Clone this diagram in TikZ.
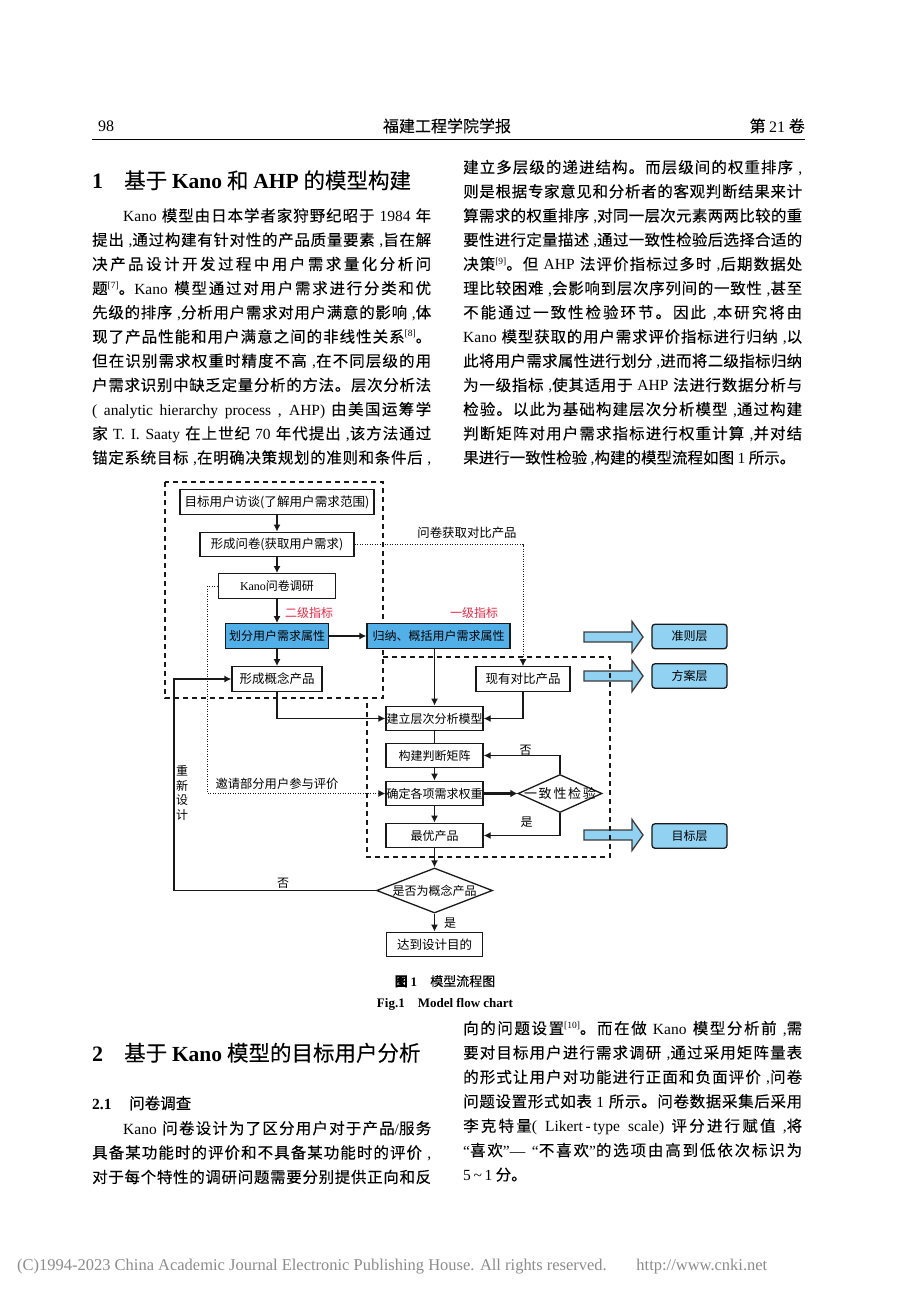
\documentclass[tikz,border=0pt]{standalone}
\usepackage{fontspec}
\usepackage{graphicx}
\setmainfont{Liberation Serif}
\newfontfamily\cjk[FakeBold=0.12]{Noto Sans CJK SC}
\newfontfamily\cjkf{Noto Sans CJK SC}
\usetikzlibrary{arrows.meta,shapes.geometric,calc}
\XeTeXinterchartokenstate=1
\newXeTeXintercharclass\cjkcls
\newcount\cjkc
\cjkc="4E00
\loop
  \XeTeXcharclass\cjkc=\cjkcls
  \advance\cjkc by 1
\ifnum\cjkc<"A000 \repeat
\XeTeXcharclass"3001=\cjkcls
\XeTeXcharclass"3002=\cjkcls
\XeTeXcharclass"FF0C=\cjkcls
\XeTeXinterchartoks\cjkcls\cjkcls={\hskip0pt plus 1pt\relax}
\definecolor{lk}{RGB}{25,25,25}
\definecolor{fcblue}{RGB}{82,176,232}
\definecolor{lblue}{RGB}{145,210,242}
\definecolor{ared}{RGB}{235,40,70}
\definecolor{ftgray}{RGB}{140,140,140}
\newcount\tn
\newcommand\tm[1]{{\rmfamily #1}}
\newcommand\refx[1]{\raisebox{5.5pt}{\rmfamily\fontsize{9.5}{9.5}\selectfont[#1]}}
\newcommand\jl[4]{\global\advance\tn by 1 \node[txt] (t\the\tn) at (#1,#2) {\makebox[#3][s]{#4}};}
\newcommand\nl[3]{\global\advance\tn by 1 \node[txt] (t\the\tn) at (#1,#2) {#3};}
\begin{document}
\begin{tikzpicture}[x=1pt,y=-1pt,
  txt/.style={anchor=base west,inner sep=0,font=\cjk\fontsize{15.5}{15.5}\selectfont},
  fc/.style={font=\cjkf\fontsize{12}{12}\selectfont},
  box/.style={fc,draw=lk,line width=1.3pt,fill=white,inner sep=0,minimum height=24.5pt},
  bbox/.style={box,fill=fcblue},
  lbox/.style={fc,draw=lk,line width=1.3pt,rounded corners=3pt,fill=lblue,inner sep=0,minimum width=75pt,minimum height=24.5pt},
  dia/.style={fc,diamond,draw=lk,line width=1.3pt,fill=white,inner sep=0},
  arr/.style={draw=lk,line width=1.3pt,-{Latex[length=7pt,width=7pt]}},
  ln/.style={draw=lk,line width=1.3pt},
  dotl/.style={draw=lk,line width=1pt,dash pattern=on 1pt off 1.5pt,-{Latex[length=7pt,width=7pt]}},
  dbox/.style={draw=lk,line width=1.6pt,dash pattern=on 5pt off 4pt},
  barr/.style={draw=lk!85,line width=1.3pt,fill=lblue,line join=miter},
  lab/.style={fc,inner sep=0},
  redl/.style={lab,text=ared}]
\useasboundingbox (0,0) rectangle (920,1302);
\fill[white] (0,0) rectangle (920,1302);

% ---------- header ----------
\node[anchor=base west,inner sep=0,font=\rmfamily\fontsize{16}{16}\selectfont] (pg) at (98,131) {98};
\node[anchor=base,inner sep=0,font=\cjk\fontsize{16}{16}\selectfont] (jn) at (447,132) {福建工程学院学报};
\node[anchor=base east,inner sep=0,font=\cjk\fontsize{16}{16}\selectfont] (vol) at (805,132) {第 \tm{21} 卷};
\draw[line width=0.8pt] (92,139.5) -- (805,139.5);

% ---------- section 1 ----------
\node[anchor=base west,inner sep=0,font=\rmfamily\bfseries\fontsize{22}{22}\selectfont] (h1n) at (92,188.5) {1};
\node[anchor=base west,inner sep=0,font=\cjk\fontsize{21.5}{21.5}\selectfont] (h1) at (124,188.5) {基于 \tm{\bfseries Kano} 和 \tm{\bfseries AHP} 的模型构建};

\jl{123}{221.4}{308pt}{\tm{Kano} 模型由日本学者家狩野纪昭于 \tm{1984} 年}
\jl{92}{245.6}{339pt}{提出 \tm{,}通过构建有针对性的产品质量要素 \tm{,}旨在解}
\jl{92}{269.8}{339pt}{决产品设计开发过程中用户需求量化分析问}
\jl{92}{294.0}{339pt}{题\refx{7}。\tm{Kano} 模型通过对用户需求进行分类和优}
\jl{92}{318.2}{339pt}{先级的排序 \tm{,}分析用户需求对用户满意的影响 \tm{,}体}
\jl{92}{342.4}{339pt}{现了产品性能和用户满意之间的非线性关系\refx{8}。}
\jl{92}{366.6}{339pt}{但在识别需求权重时精度不高 \tm{,}在不同层级的用}
\jl{92}{390.8}{339pt}{户需求识别中缺乏定量分析的方法。层次分析法}
\jl{92}{415.0}{339pt}{\tm{( analytic hierarchy process , AHP)} 由美国运筹学}
\jl{92}{439.2}{339pt}{家 \tm{T. I. Saaty} 在上世纪 \tm{70} 年代提出 \tm{,}该方法通过}
\jl{92}{463.4}{339pt}{锚定系统目标 \tm{,}在明确决策规划的准则和条件后 \tm{,}}

\jl{463}{173.0}{339pt}{建立多层级的递进结构。而层级间的权重排序 \tm{,}}
\jl{463}{197.2}{339pt}{则是根据专家意见和分析者的客观判断结果来计}
\jl{463}{221.4}{339pt}{算需求的权重排序 \tm{,}对同一层次元素两两比较的重}
\jl{463}{245.6}{339pt}{要性进行定量描述 \tm{,}通过一致性检验后选择合适的}
\jl{463}{269.8}{339pt}{决策\refx{9}。但 \tm{AHP} 法评价指标过多时 \tm{,}后期数据处}
\jl{463}{294.0}{339pt}{理比较困难 \tm{,}会影响到层次序列间的一致性 \tm{,}甚至}
\jl{463}{318.2}{339pt}{不能通过一致性检验环节。因此 \tm{,}本研究将由}
\jl{463}{342.4}{339pt}{\tm{Kano} 模型获取的用户需求评价指标进行归纳 \tm{,}以}
\jl{463}{366.6}{339pt}{此将用户需求属性进行划分 \tm{,}进而将二级指标归纳}
\jl{463}{390.8}{339pt}{为一级指标 \tm{,}使其适用于 \tm{AHP} 法进行数据分析与}
\jl{463}{415.0}{339pt}{检验。以此为基础构建层次分析模型 \tm{,}通过构建}
\jl{463}{439.2}{339pt}{判断矩阵对用户需求指标进行权重计算 \tm{,}并对结}
\nl{463}{463.4}{果进行一致性检验 \tm{,}构建的模型流程如图 \tm{1} 所示。}

% ---------- flowchart ----------
% block arrows
\draw[barr] (584,632) -- (632,632) -- (632,621.5) -- (643,637) -- (632,652.5) -- (632,642) -- (584,642) -- cycle;
\draw[barr] (584,671) -- (632,671) -- (632,660.5) -- (643,676) -- (632,691.5) -- (632,681) -- (584,681) -- cycle;
\draw[barr] (584,830) -- (632,830) -- (632,819.5) -- (643,835) -- (632,850.5) -- (632,840) -- (584,840) -- cycle;
% dashed groups
\draw[dbox] (165,482) rectangle (383,698);
\draw[dbox] (383,657) -- (610,657) -- (610,857) -- (367,857) -- (367,698);

\node[box,minimum width=194pt,font=\cjkf\fontsize{12.6}{12.6}\selectfont] (n1) at (277,502) {目标用户访谈(了解用户需求范围)};
\node[box,minimum width=154pt,font=\cjkf\fontsize{12.4}{12.4}\selectfont] (n2) at (277,544.5) {形成问卷(获取用户需求)};
\node[box,minimum width=117pt] (n3) at (277,586) {\tm{Kano}问卷调研};
\node[bbox,minimum width=103pt] (n4) at (277,636) {划分用户需求属性};
\node[bbox,minimum width=143pt] (n5) at (438.5,636) {归纳、概括用户需求属性};
\node[box,minimum width=90pt,font=\cjkf\fontsize{12.5}{12.5}\selectfont] (n6) at (277,679) {形成概念产品};
\node[box,minimum width=94pt,font=\cjkf\fontsize{12.5}{12.5}\selectfont] (n7) at (523,679) {现有对比产品};
\node[box,minimum width=97pt] (n8) at (434.5,718.5) {建立层次分析模型};
\node[box,minimum width=97pt] (n9) at (434.5,755.5) {构建判断矩阵};
\node[box,minimum width=97pt] (n10) at (434.5,793.5) {确定各项需求权重};
\node[box,minimum width=97pt] (n11) at (434.5,835.5) {最优产品};
\node[dia,minimum width=84pt,minimum height=38pt] (d1) at (560,793.5) {\makebox[0pt]{\fontsize{13}{13}\selectfont\makebox[72pt][s]{一致性检验}}};
\node[dia,minimum width=116pt,minimum height=45pt] (d2) at (434.5,890.5) {\makebox[0pt]{是否为概念产品}};
\node[box,minimum width=96pt,font=\cjkf\fontsize{12.5}{12.5}\selectfont] (n12) at (434.5,944.5) {达到设计目的};

\node[lbox] (k1) at (689.5,636.5) {准则层};
\node[lbox] (k2) at (689.5,676) {方案层};
\node[lbox] (k3) at (689.5,836) {目标层};

% labels
\node[redl] (r2) at (309,613) {二级指标};
\node[redl] (r1) at (474,613) {一级指标};
\node[lab,font=\cjkf\fontsize{12.4}{12.4}\selectfont] (q1) at (467,533) {问卷获取对比产品};
\node[lab,font=\cjkf\fontsize{12.3}{12.3}\selectfont] (q2) at (277,784) {邀请部分用户参与评价};
\node[lab] (no1) at (525.5,750) {否};
\node[lab] (ys1) at (526.5,822) {是};
\node[lab] (no2) at (283,883) {否};
\node[lab] (ys2) at (450,923) {是};
\node[lab,align=center,font=\cjkf\fontsize{12}{14.4}\selectfont] (rd) at (182,793) {重\\新\\设\\计};

% connectors
\draw[arr] (n1) -- (n2);
\draw[arr] (n2) -- (n3);
\draw[arr] (n3) -- (n4);
\draw[arr] (n4) -- (n6);
\draw[arr] (n4) -- (n5);
\draw[arr] (n5.south -| n8.north) -- (n8.north);
\draw[arr] (n6.south) |- (n8.west);
\draw[arr] (n7.south) |- (n8.east);
\draw[ln] (n8) -- (n9);
\draw[arr] (n9) -- (n10);
\draw[arr] (n10) -- (n11);
\draw[draw=lk,line width=2.2pt,-{Latex[length=7pt,width=8pt]}] (n10.east) -- (d1.west);
\draw[arr] (d1.north) |- (n9.east);
\draw[arr] (d1.south) |- (n11.east);
\draw[arr] (n11) -- (d2);
\draw[arr] (d2) -- (n12);
\draw[arr] (d2.west) -- ++(-202,0) |- (n6.west);
\draw[dotl] (n2.east) -| (n7.north);
\draw[dotl] (n3.west) -- ++(-10,0) |- (n10.west);

% ---------- caption ----------
\node[anchor=base,inner sep=0,font=\cjk\fontsize{13}{13}\selectfont] (cap1) at (445,986) {{\bfseries 图 \tm{\bfseries 1}}\hspace{1em}模型流程图};
\node[anchor=base,inner sep=0,font=\rmfamily\bfseries\fontsize{13}{13}\selectfont] (cap2) at (445,1007.5) {Fig.1\hspace{1em}Model flow chart};

% ---------- section 2 ----------
\node[anchor=base west,inner sep=0,font=\rmfamily\bfseries\fontsize{22}{22}\selectfont] (h2n) at (92,1061) {2};
\node[anchor=base west,inner sep=0,font=\cjk\fontsize{21.5}{21.5}\selectfont] (h2) at (124,1061) {基于 \tm{\bfseries Kano} 模型的目标用户分析};
\node[anchor=base west,inner sep=0,font=\rmfamily\bfseries\fontsize{15.5}{15.5}\selectfont] (h21n) at (92,1109) {2.1};
\node[txt] (h21) at (129,1109) {问卷调查};

\jl{123}{1134}{308pt}{\tm{Kano} 问卷设计为了区分用户对于产品\tm{/}服务}
\jl{92}{1158.4}{339pt}{具备某功能时的评价和不具备某功能时的评价 \tm{,}}
\jl{92}{1182.8}{339pt}{对于每个特性的调研问题需要分别提供正向和反}

\jl{463}{1034}{339pt}{向的问题设置\refx{10}。而在做 \tm{Kano} 模型分析前 \tm{,}需}
\jl{463}{1058.4}{339pt}{要对目标用户进行需求调研 \tm{,}通过采用矩阵量表}
\jl{463}{1082.8}{339pt}{的形式让用户对功能进行正面和负面评价 \tm{,}问卷}
\jl{463}{1107.2}{339pt}{问题设置形式如表 \tm{1} 所示。问卷数据采集后采用}
\jl{463}{1131.6}{339pt}{李克特量\tm{( Likert\,-\,type scale)} 评分进行赋值 \tm{,}将}
\jl{463}{1156}{339pt}{\tm{“}喜欢\tm{”}\tm{—} \tm{“}不喜欢\tm{”}的选项由高到低依次标识为}
\nl{463}{1180.4}{\tm{5\,\textasciitilde\,1} 分。}

% ---------- footer ----------
\node[anchor=base west,inner sep=0,text=ftgray] (ft) at (17,1270) {\resizebox{750pt}{!}{\rmfamily\fontsize{16}{16}\selectfont (C)1994-2023 China Academic Journal Electronic Publishing House. All rights reserved.\hspace{1.8em}http://www.cnki.net}};
\end{tikzpicture}
\end{document}
